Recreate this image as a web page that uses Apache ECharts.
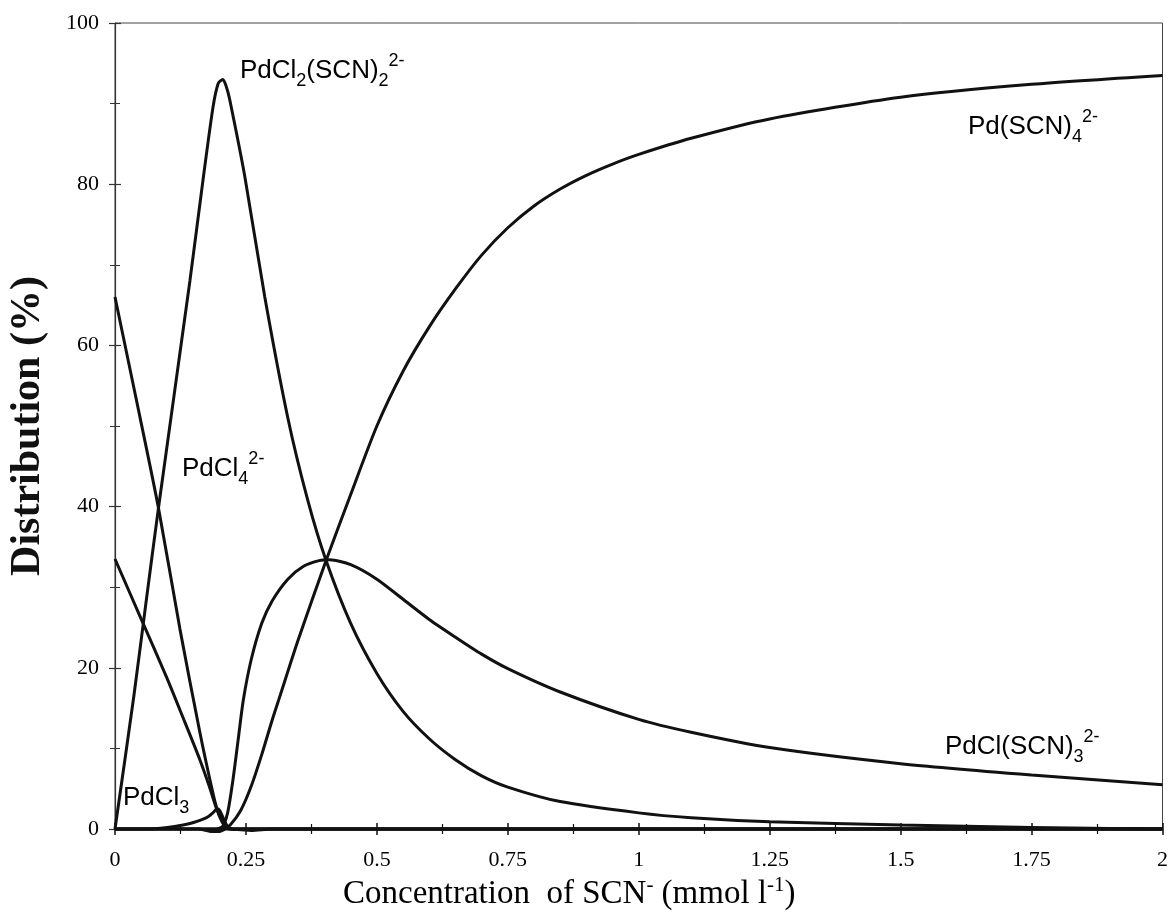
<!DOCTYPE html>
<html>
<head>
<meta charset="utf-8">
<script src="https://cdn.jsdelivr.net/npm/echarts@6/dist/echarts.min.js"></script>
<style>
  html, body { margin: 0; padding: 0; background: #fff; }
  #chart { width: 1171px; height: 917px; }
</style>
</head>
<body>
<div id="chart"></div>
<script>
// x ticks 0 .. 2 step 0.25, y ticks 0 .. 100 step 20
const xTicks = [0, 0.25, 0.5, 0.75, 1, 1.25, 1.5, 1.75, 2]
const yTicks = [0, 20, 40, 60, 80, 100]

// PdCl4 2- (starts at 66 %)
const xPdCl4 = [0, 0.04, 0.0825, 0.124, 0.162, 0.185, 0.195, 0.205, 0.215, 0.225, 0.5, 1, 2]
const yPdCl4 = [66, 53.5, 40, 24.8, 12, 5, 2.4, 0.8, 0.1, 0, 0, 0, 0]

// second chloro species (starts at 33 %)
const xClB = [0, 0.049, 0.098, 0.13, 0.162, 0.18, 0.194, 0.205, 0.215, 0.225, 0.5, 1, 2]
const yClB = [33.5, 26.2, 18.9, 13.8, 8.6, 5.3, 2.5, 1.0, 0.2, 0, 0, 0, 0]

// PdCl2(SCN)2 2-
const xPdCl2 = [0, 0.036, 0.06, 0.0825, 0.143, 0.168, 0.187, 0.197, 0.206, 0.213, 0.219, 0.248, 0.286, 0.33, 0.368, 0.403,
  0.45, 0.5, 0.55, 0.6, 0.65, 0.7, 0.75, 0.85, 1.0, 1.1, 1.25, 1.5, 1.75, 1.9, 2]
const yPdCl2 = [0, 16.5, 28.5, 39.6, 68, 80.5, 89.5, 92.5, 93, 92, 90.5, 80.9, 66, 51, 40.8, 33.3,
  25.5, 19.3, 14.6, 11.2, 8.6, 6.6, 5.2, 3.4, 2.0, 1.4, 0.9, 0.5, 0.2, 0.05, 0]

// PdCl(SCN)3 2-
const xPdCl1 = [0, 0.19, 0.205, 0.215, 0.225, 0.235, 0.245, 0.26, 0.28, 0.3, 0.33, 0.36, 0.39, 0.41, 0.45, 0.5,
  0.55, 0.6, 0.65, 0.7, 0.75, 0.85, 1.0, 1.1, 1.25, 1.5, 1.75, 2.0]
const yPdCl1 = [0, 0, 0.3, 2, 6, 11, 16, 21, 25.5, 28.3, 31, 32.6, 33.3, 33.4, 32.8, 31,
  28.5, 26, 23.8, 21.7, 19.9, 17, 13.6, 12, 10.1, 8.1, 6.7, 5.5]

// Pd(SCN)4 2-
const xPdSCN4 = [0, 0.2, 0.21, 0.22, 0.24, 0.26, 0.28, 0.3, 0.314, 0.35, 0.403, 0.45, 0.5, 0.55, 0.6, 0.65, 0.7,
  0.75, 0.8, 0.85, 0.9, 0.95, 1.0, 1.1, 1.25, 1.5, 1.75, 2]
const yPdSCN4 = [0, 0, 0.1, 0.5, 2.3, 5.3, 9.2, 13.5, 16.3, 23.5, 33.3, 41.5, 50, 56.8, 62.3, 67, 71.2,
  74.6, 77.3, 79.4, 81.1, 82.5, 83.7, 85.7, 88.1, 90.8, 92.4, 93.5]

// PdCl3 (small)
const xPdCl3 = [0, 0.06, 0.1, 0.13, 0.15, 0.175, 0.187, 0.195, 0.2, 0.207, 0.215, 0.225, 0.5, 1, 2]
const yPdCl3 = [0, 0, 0.2, 0.5, 0.8, 1.4, 2.0, 2.5, 2.3, 1.3, 0.3, 0, 0, 0, 0]

// trace species close to zero
const xTrace = [0, 0.16, 0.185, 0.2, 0.212, 0.24, 0.26, 0.3, 2]
const yTrace = [0, 0, -0.3, -0.3, 0, -0.1, -0.2, 0, 0]

const pairs = (xs, ys) => xs.map((x, i) => [x, ys[i]])

const chart = echarts.init(document.getElementById('chart'))

const tickFont = { fontFamily: 'Liberation Serif', fontSize: 22, color: '#000' }

const lineSeries = (name, xs, ys) => ({
  name,
  type: 'line',
  data: pairs(xs, ys),
  showSymbol: false,
  smooth: 0.25,
  clip: false,
  lineStyle: { color: '#111', width: 3 },
  z: 3
})

// rich text styles for chemical labels
const chem = {
  n: { fontFamily: 'Liberation Sans', fontSize: 26, lineHeight: 38, verticalAlign: 'middle', color: '#111' },
  sub: { fontFamily: 'Liberation Sans', fontSize: 18, lineHeight: 18, verticalAlign: 'bottom', color: '#111' },
  sup: { fontFamily: 'Liberation Sans', fontSize: 18, lineHeight: 18, verticalAlign: 'top', color: '#111' }
}

const chemLabel = (text, left, top) => ({
  type: 'text',
  left, top,
  style: { text, rich: chem }
})

const baseX = {
  type: 'value', min: 0, max: 2, interval: 0.25,
  splitLine: { show: false }
}
const baseY = {
  type: 'value', min: 0, max: 100, interval: 20,
  splitLine: { show: false }
}

const option = {
  animation: false,
  grid: {
    left: 115, right: 6, top: 23, bottom: 88,
    show: true, borderColor: '#444', borderWidth: 1
  },
  xAxis: [
    {
      ...baseX,
      axisLine: { lineStyle: { color: '#111', width: 1.5 } },
      axisTick: { length: 6, lineStyle: { color: '#111', width: 1.5 } },
      minorTick: { show: true, splitNumber: 2, length: 5, lineStyle: { color: '#111', width: 1.2 } },
      axisLabel: { ...tickFont, margin: 20 }
    },
    {
      ...baseX,
      position: 'bottom',
      axisLine: { show: false },
      axisTick: { inside: true, length: 6, lineStyle: { color: '#111', width: 1.5 } },
      minorTick: { show: true, splitNumber: 2, length: 5, lineStyle: { color: '#111', width: 1.2 } },
      axisLabel: { show: false }
    }
  ],
  yAxis: [
    {
      ...baseY,
      axisLine: { show: true, lineStyle: { color: '#333', width: 1.2 } },
      axisTick: { show: true, length: 6, lineStyle: { color: '#333', width: 1.2 } },
      minorTick: { show: true, splitNumber: 2, length: 5, lineStyle: { color: '#333', width: 1 } },
      axisLabel: { ...tickFont, margin: 16 }
    },
    {
      ...baseY,
      position: 'left',
      axisLine: { show: false },
      axisTick: { show: true, inside: true, length: 6, lineStyle: { color: '#333', width: 1.2 } },
      minorTick: { show: true, splitNumber: 2, length: 5, lineStyle: { color: '#333', width: 1 } },
      axisLabel: { show: false }
    }
  ],
  series: [
    lineSeries('Trace', xTrace, yTrace),
    lineSeries('PdCl3', xPdCl3, yPdCl3),
    lineSeries('PdCl4 2-', xPdCl4, yPdCl4),
    lineSeries('Cl species', xClB, yClB),
    lineSeries('PdCl2(SCN)2 2-', xPdCl2, yPdCl2),
    lineSeries('PdCl(SCN)3 2-', xPdCl1, yPdCl1),
    lineSeries('Pd(SCN)4 2-', xPdSCN4, yPdSCN4)
  ],
  graphic: [
    chemLabel('{n|PdCl}{sub|2}{n|(SCN)}{sub|2}{sup|2-}', 240, 52),
    chemLabel('{n|Pd(SCN)}{sub|4}{sup|2-}', 968, 108),
    chemLabel('{n|PdCl}{sub|4}{sup|2-}', 182, 450),
    chemLabel('{n|PdCl(SCN)}{sub|3}{sup|2-}', 945, 728),
    chemLabel('{n|PdCl}{sub|3}', 123, 785),
    {
      type: 'text',
      x: 28, y: 426,
      rotation: Math.PI / 2,
      style: {
        text: 'Distribution (%)',
        fontFamily: 'Liberation Serif', fontWeight: 'bold', fontSize: 42,
        align: 'center', verticalAlign: 'middle', fill: '#111'
      }
    },
    {
      type: 'text',
      left: 343, top: 875,
      style: {
        text: '{t|Concentration  of SCN}{s|-}{t| (mmol l}{s|-1}{t|)}',
        rich: {
          t: { fontFamily: 'Liberation Serif', fontSize: 33, lineHeight: 38, verticalAlign: 'middle', color: '#111' },
          s: { fontFamily: 'Liberation Serif', fontSize: 21, lineHeight: 21, verticalAlign: 'top', color: '#111' }
        }
      }
    }
  ]
}

chart.setOption(option)
</script>
</body>
</html>
